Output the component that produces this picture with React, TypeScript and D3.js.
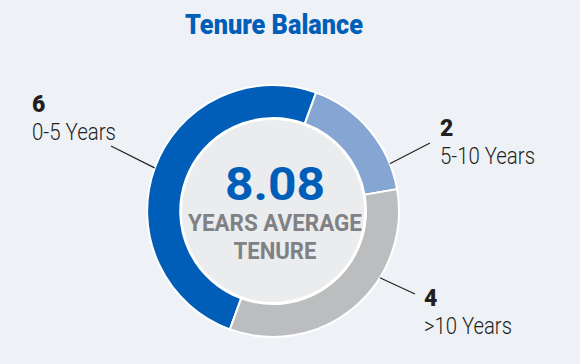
import React from "react";
import * as d3 from "d3";

const categories = ["0-5 Years", "5-10 Years", ">10 Years"];
const counts = [6, 2, 4];
const colors = ["#005eb8", "#85a5d3", "#bcbdbf"];
const title = "Tenure Balance";
const centerValue = "8.08";
const centerLines = ["YEARS AVERAGE", "TENURE"];

const W = 580;
const H = 364;
const cx = 273;
const cy = 211;
const outerR = 126;
const innerR = 93;

// label layout: anchor angle on the ring (deg), line end, text position
const labelLayout = [
  { angle: 290, end: [111, 146], tx: 32, ty: 112 },
  { angle: 68, end: [430, 143], tx: 440, ty: 136 },
  { angle: 122, end: [415, 294], tx: 424, ty: 306 },
];

export default function App() {
  const pie = d3
    .pie<number>()
    .sort(null)
    .value((d) => d)
    .startAngle((200 * Math.PI) / 180)
    .endAngle((560 * Math.PI) / 180);
  const arcs = pie(counts);
  const arc = d3.arc<d3.PieArcDatum<number>>().innerRadius(innerR).outerRadius(outerR);

  return (
    <div>
      <style>{`body{margin:0;}`}</style>
      <svg width={W} height={H} style={{ display: "block" }}>
        <rect width={W} height={H} fill="#eef2f6" />
        <text
          x={274}
          y={34}
          textAnchor="middle"
          fill="#005eb8"
          fontFamily="Roboto"
          fontWeight={900}
          fontSize={27}
          textLength={178}
          lengthAdjust="spacingAndGlyphs"
        >
          {title}
        </text>
        <g transform={`translate(${cx},${cy})`}>
          {arcs.map((a, i) => (
            <path key={i} d={arc(a) || ""} fill={colors[i]} stroke="#ffffff" strokeWidth={2} />
          ))}
          <circle r={innerR - 1} fill="#ebecee" stroke="#ffffff" strokeWidth={2} />
        </g>
        {labelLayout.map((l, i) => {
          const ang = (l.angle * Math.PI) / 180;
          const sx = cx + Math.sin(ang) * outerR;
          const sy = cy - Math.cos(ang) * outerR;
          return (
            <line key={i} x1={sx} y1={sy} x2={l.end[0]} y2={l.end[1]} stroke="#222" strokeWidth={1.2} />
          );
        })}
        {labelLayout.map((l, i) => (
          <g key={i}>
            <text x={l.tx} y={l.ty} fill="#231f20" fontFamily="Roboto" fontWeight={900} fontSize={23}>
              {counts[i]}
            </text>
            <text
              x={l.tx}
              y={l.ty + 28}
              fill="#231f20"
              fontFamily="Roboto"
              fontWeight={300}
              fontSize={23}
              textLength={i === 0 ? 84 : i === 1 ? 95 : 88}
              lengthAdjust="spacingAndGlyphs"
            >
              {categories[i]}
            </text>
          </g>
        ))}
        <text
          x={275}
          y={200}
          textAnchor="middle"
          fill="#005eb8"
          fontFamily="Roboto"
          fontWeight={700}
          fontSize={46}
          textLength={100}
          lengthAdjust="spacingAndGlyphs"
        >
          {centerValue}
        </text>
        <text
          x={275}
          y={231}
          textAnchor="middle"
          fill="#808184"
          fontFamily="Roboto"
          fontWeight={700}
          fontSize={24}
          textLength={174}
          lengthAdjust="spacingAndGlyphs"
        >
          {centerLines[0]}
        </text>
        <text
          x={275}
          y={259}
          textAnchor="middle"
          fill="#808184"
          fontFamily="Roboto"
          fontWeight={700}
          fontSize={24}
          textLength={83}
          lengthAdjust="spacingAndGlyphs"
        >
          {centerLines[1]}
        </text>
      </svg>
    </div>
  );
}
